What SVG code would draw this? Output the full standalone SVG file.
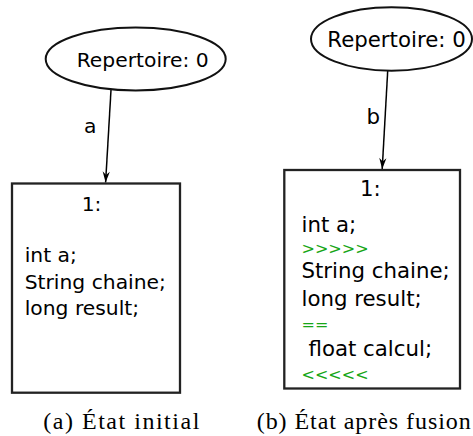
<svg xmlns="http://www.w3.org/2000/svg" width="473" height="436" viewBox="0 0 473 436">
<style>
.s{font-family:"DejaVu Sans",sans-serif;fill:#000}
.g{font-family:"DejaVu Sans",sans-serif;fill:#17a617;font-size:16px}
.cap{font-family:"Liberation Serif","Times New Roman",serif;font-size:24px;fill:#000}
.ell{fill:#fff;stroke:#111;stroke-width:2}
.box{fill:#fff;stroke:#222;stroke-width:2.3}
.edge{stroke:#000;stroke-width:1.5;fill:none}
</style>
<defs>
<marker id="arr" markerUnits="userSpaceOnUse" markerWidth="14" markerHeight="10" viewBox="-12 -5 14 10" refX="0" refY="0" orient="auto">
<path d="M0,0 L-11,-3.6 L-7.5,0 L-11,3.6 Z" fill="#000"/>
</marker>
</defs>
<g id="edges">
<line class="edge" x1="111" y1="90" x2="105.6" y2="182.5" marker-end="url(#arr)"/>
<text class="s" x="84" y="133" font-size="20.3">a</text>
<line class="edge" x1="387.7" y1="71" x2="382.2" y2="169" marker-end="url(#arr)"/>
<text class="s" x="366.5" y="124" font-size="21.3">b</text>
</g>
<g id="repA">
<ellipse class="ell" cx="135.7" cy="59" rx="90" ry="31.5"/>
<text class="s" x="76.7" y="66.7" font-size="20.3">Repertoire: 0</text>
</g>
<g id="nodeA">
<rect class="box" x="12" y="183.5" width="168" height="209.2"/>
<g class="s" font-size="20.3">
<text x="81.7" y="210.5">1:</text>
<text x="24.7" y="262">int a;</text>
<text x="24.7" y="288.5">String chaine;</text>
<text x="24.7" y="315">long result;</text>
</g>
</g>
<g id="repB">
<ellipse class="ell" cx="391.5" cy="39" rx="80.5" ry="31.7"/>
<text class="s" x="327.3" y="46.7" font-size="21.3">Repertoire: 0</text>
</g>
<g id="nodeB">
<rect class="box" x="284.3" y="170" width="175.7" height="218.5"/>
<g class="s" font-size="21.3">
<text x="360" y="195.5">1:</text>
<text x="301.5" y="231.7">int a;</text>
<text x="301.5" y="278.2">String chaine;</text>
<text x="301.5" y="306.3">long result;</text>
<text x="308.5" y="356">float calcul;</text>
</g>
<text class="g" x="301.5" y="254.3">&gt;&gt;&gt;&gt;&gt;</text>
<text class="g" x="301.5" y="330.3">==</text>
<text class="g" x="301.5" y="379.8">&lt;&lt;&lt;&lt;&lt;</text>
</g>
<g id="captions">
<text class="cap" x="43.3" y="428.5" textLength="156" lengthAdjust="spacing">(a) État initial</text>
<text class="cap" x="256.7" y="428.5" textLength="214" lengthAdjust="spacing">(b) État après fusion</text>
</g>
</svg>
